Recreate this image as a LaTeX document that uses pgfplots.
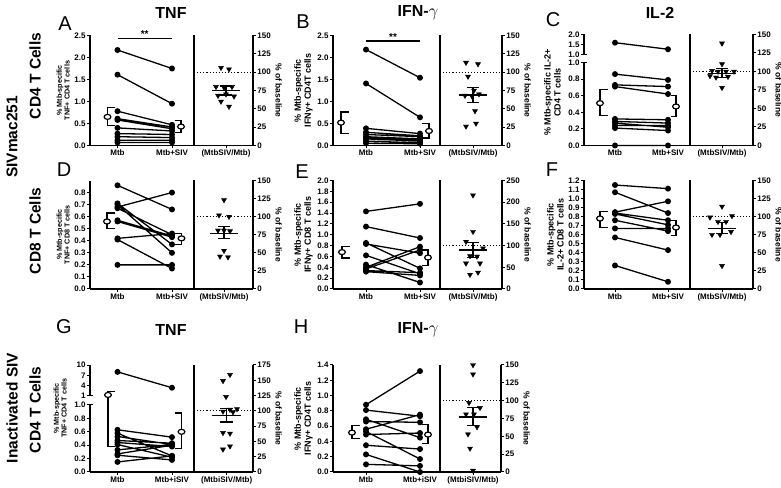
\documentclass[border=0pt]{standalone}
\usepackage{pgfplots}
\pgfplotsset{compat=1.18}
\usepackage{fontspec}
\setmainfont{Liberation Sans}
\newcommand\tickf{\fontsize{8}{8.5}\selectfont\bfseries}
\newcommand\smallylab{\fontsize{7.2}{7.8}\selectfont\bfseries}
\newcommand\bigylab{\fontsize{9}{10}\selectfont\bfseries}
\newcommand\basef{\fontsize{8.5}{9}\selectfont\bfseries}
\newcommand\starf{\fontsize{10}{10}\selectfont\bfseries}
\newcommand\titf{\fontsize{16}{18}\selectfont\bfseries}
\newcommand\letf{\fontsize{20}{22}\selectfont}
\newcommand\rowf{\fontsize{15.5}{17}\selectfont\bfseries}
\pgfplotsset{
  base/.style={scale only axis, anchor=south west, clip=false, unbounded coords=jump,
    axis line style={line width=1.5pt},
    every tick/.style={line width=1pt, black},
    major tick length=3pt, tick align=outside,
    tick label style={font=\tickf, inner sep=1.2pt},
    /pgf/number format/assume math mode=true},
  onedec/.style={yticklabel style={/pgf/number format/.cd, fixed, fixed zerofill, precision=1}},
  intdec/.style={yticklabel style={/pgf/number format/.cd, fixed, precision=0}},
  lpart/.style={base, onedec, axis x line*=bottom, axis y line*=left},
  upart/.style={base, axis x line=none, axis y line*=left, xtick=\empty},
  rpart/.style={base, intdec, axis x line*=bottom, axis y line*=right, ymin=0,
    ylabel={\% of baseline}, ylabel style={font=\basef, rotate=180},
    extra description/.code={\draw[line width=1.6pt] (rel axis cs:0,0) -- (rel axis cs:0,1);}},
  pts/.style={line width=1.3pt, black, mark=*, mark size=2.3pt, mark options={solid}},
  meanm/.style={only marks, mark=*, mark size=2.5pt, mark options={fill=white, draw=black, line width=1.2pt, xscale=1.35}},
  brk/.style={line width=1.2pt, black, mark=none},
  tri/.style={only marks, black, mark=triangle*, mark size=2.9pt, mark options={rotate=180}},
  msem/.style={line width=1.4pt, black, mark=none},
  dotl/.style={dotted, line width=1.1pt, black, mark=none},
  brkmark/.style={extra y ticks={1}, extra y tick labels={}, extra y tick style={tick align=inside}},
}
\begin{document}
\begin{tikzpicture}
\path[use as bounding box] (0pt,0pt) rectangle (781pt,487pt);

% ---------------- Panel A ----------------
\begin{axis}[lpart, at={(90pt,341.5pt)}, width=104pt, height=110pt,
  xmin=90, xmax=194, ymin=0, ymax=2.5, ytick={0,0.5,1,1.5,2,2.5},
  xtick={117.5,172}, xticklabels={Mtb,Mtb+SIV},
  ylabel={\% Mtb-specific\\TNF+ CD4 T cells}, ylabel style={align=center, font=\smallylab}]
\addplot[pts] coordinates {(117.5,2.17)(172,1.75)(0,nan)(117.5,1.61)(172,0.95)(0,nan)(117.5,0.78)(172,0.47)(0,nan)(117.5,0.61)(172,0.42)(0,nan)(117.5,0.58)(172,0.38)(0,nan)(117.5,0.40)(172,0.33)(0,nan)(117.5,0.27)(172,0.25)(0,nan)(117.5,0.20)(172,0.18)(0,nan)(117.5,0.12)(172,0.12)(0,nan)(117.5,0.07)(172,0.07)};
\addplot[brk] coordinates {(115,0.86)(107.5,0.86)(107.5,0.45)(115,0.45)(0,nan)(174.5,0.56)(181,0.56)(181,0.30)(174.5,0.30)};
\addplot[meanm] coordinates {(107.5,0.65)(181,0.43)};
\addplot[line width=1.7pt, black, mark=none] coordinates {(117.5,2.43)(172,2.43)};
\node[font=\starf, above, inner sep=1pt] at (axis cs:144.75,2.43) {**};
\end{axis}
\begin{axis}[rpart, at={(194pt,341.5pt)}, width=59pt, height=110pt,
  xmin=194, xmax=253, ymax=150, ytick={0,25,...,150}, xtick={226}, xticklabels={(MtbSIV/Mtb)}]
\addplot[dotl] coordinates {(194,100)(253,100)};
\addplot[msem] coordinates {(212,75)(240,75)(0,nan)(226,69)(226,81)(0,nan)(220,69)(232,69)(0,nan)(220,81)(232,81)};
\addplot[tri] coordinates {(221,106)(229,104)(216,80)(224,79)(232,80)(218,68)(226,70)(234,67)(221,60)(229,53)};
\end{axis}

% ---------------- Panel B ----------------
\begin{axis}[lpart, at={(333pt,341.5pt)}, width=107pt, height=110pt,
  xmin=333, xmax=440, ymin=0, ymax=2.5, ytick={0,0.5,1,1.5,2,2.5},
  xtick={366,420}, xticklabels={Mtb,Mtb+SIV},
  ylabel={\% Mtb-specific\\IFNγ+ CD4T cells}, ylabel style={align=center, font=\bigylab}]
\addplot[pts] coordinates {(366,2.18)(420,1.54)(0,nan)(366,1.41)(420,0.64)(0,nan)(366,0.39)(420,0.27)(0,nan)(366,0.30)(420,0.22)(0,nan)(366,0.25)(420,0.20)(0,nan)(366,0.20)(420,0.15)(0,nan)(366,0.18)(420,0.12)(0,nan)(366,0.15)(420,0.10)(0,nan)(366,0.10)(420,0.06)(0,nan)(366,0.05)(420,0.04)};
\addplot[brk] coordinates {(349,0.76)(341,0.76)(341,0.28)(349,0.28)(0,nan)(421.5,0.50)(429,0.50)(429,0.17)(421.5,0.17)};
\addplot[meanm] coordinates {(341,0.52)(429,0.33)};
\addplot[line width=1.7pt, black, mark=none] coordinates {(366,2.37)(420,2.37)};
\node[font=\starf, above, inner sep=1pt] at (axis cs:393,2.37) {**};
\end{axis}
\begin{axis}[rpart, at={(440pt,341.5pt)}, width=62pt, height=110pt,
  xmin=440, xmax=502, ymax=150, ytick={0,25,...,150}, xtick={473}, xticklabels={(MtbSIV/Mtb)}]
\addplot[dotl] coordinates {(440,100)(502,100)};
\addplot[msem] coordinates {(459,69)(487,69)(0,nan)(473,59)(473,79)(0,nan)(467,59)(479,59)(0,nan)(467,79)(479,79)};
\addplot[tri] coordinates {(466,113)(478,111)(468,94)(474,75)(479,70)(465,68)(472,67)(475,47)(466,26)(476,30)};
\end{axis}

% ---------------- Panel C ----------------
\begin{axis}[lpart, brkmark, at={(584pt,341.5pt)}, width=106pt, height=83pt,
  xmin=584, xmax=690, ymin=0, ymax=1, ytick={0,0.2,0.4,0.6,0.8,1},
  xtick={615,668}, xticklabels={Mtb,Mtb+SIV},
  ylabel={\% Mtb-specific IL-2+\\CD4 T cells}, ylabel style={align=center, font=\bigylab, at={(ticklabel cs:0.64)}}]
\addplot[pts] coordinates {(615,0.86)(668,0.79)(0,nan)(615,0.73)(668,0.71)(0,nan)(615,0.71)(668,0.62)(0,nan)(615,0.32)(668,0.31)(0,nan)(615,0.29)(668,0.27)(0,nan)(615,0.27)(668,0.22)(0,nan)(615,0.24)(668,0.24)(0,nan)(615,0.21)(668,0.18)(0,nan)(615,0)(668,0)};
\addplot[brk] coordinates {(608,0.67)(600,0.67)(600,0.36)(608,0.36)(0,nan)(670.5,0.60)(676,0.60)(676,0.35)(670.5,0.35)};
\addplot[meanm] coordinates {(600,0.51)(676,0.47)};
\end{axis}
\begin{axis}[upart, onedec, brkmark, at={(584pt,432pt)}, width=106pt, height=20.5pt,
  xmin=584, xmax=690, ymin=1, ymax=2, ytick={1,1.5,2}]
\addplot[pts] coordinates {(615,1.6)(668,1.28)};
\end{axis}
\begin{axis}[rpart, at={(690pt,341.5pt)}, width=63pt, height=111pt,
  xmin=690, xmax=753, ymax=150, ytick={0,25,...,150}, xtick={722}, xticklabels={(MtbSIV/Mtb)}]
\addplot[dotl] coordinates {(690,100)(753,100)};
\addplot[msem] coordinates {(708,97)(736,97)(0,nan)(722,92)(722,104)(0,nan)(716,92)(728,92)(0,nan)(716,104)(728,104)};
\addplot[tri] coordinates {(722,138)(722,110)(712,101)(718,100)(726,100)(734,100)(710,94)(716,92)(728,93)(722,78)};
\end{axis}

% ---------------- Panel D ----------------
\begin{axis}[lpart, at={(90pt,198pt)}, width=104pt, height=108.5pt,
  xmin=90, xmax=194, ymin=0, ymax=0.9, ytick={0,0.1,0.2,0.3,0.4,0.5,0.6,0.7,0.8},
  xtick={117.5,172}, xticklabels={Mtb,Mtb+SIV},
  ylabel={\% Mtb-specific\\TNF+ CD8 T cells}, ylabel style={align=center, font=\smallylab}]
\addplot[pts] coordinates {(117.5,0.86)(172,0.66)(0,nan)(117.5,0.68)(172,0.80)(0,nan)(117.5,0.71)(172,0.37)(0,nan)(117.5,0.70)(172,0.30)(0,nan)(117.5,0.67)(172,0.45)(0,nan)(117.5,0.57)(172,0.44)(0,nan)(117.5,0.56)(172,0.43)(0,nan)(117.5,0.42)(172,0.46)(0,nan)(117.5,0.41)(172,0.17)(0,nan)(117.5,0.20)(172,0.20)};
\addplot[brk] coordinates {(115,0.63)(107,0.63)(107,0.50)(115,0.50)(0,nan)(174.5,0.46)(181.5,0.46)(181.5,0.37)(174.5,0.37)};
\addplot[meanm] coordinates {(107,0.56)(181.5,0.42)};
\end{axis}
\begin{axis}[rpart, at={(194pt,198pt)}, width=59pt, height=108.5pt,
  xmin=194, xmax=253, ymax=150, ytick={0,25,...,150}, xtick={224}, xticklabels={(MtbSIV/Mtb)}]
\addplot[dotl] coordinates {(194,100)(253,100)};
\addplot[msem] coordinates {(210,77)(238,77)(0,nan)(224,70)(224,86)(0,nan)(218,70)(230,70)(0,nan)(218,86)(230,86)};
\addplot[tri] coordinates {(224,123)(219,102)(229,100)(218,81)(224,81)(230,80)(224,53)(220,45)(228,44)};
\end{axis}

% ---------------- Panel E ----------------
\begin{axis}[lpart, at={(333pt,198pt)}, width=107pt, height=108.5pt,
  xmin=333, xmax=440, ymin=0, ymax=2, ytick={0,0.2,0.4,0.6,0.8,1,1.2,1.4,1.6,1.8,2},
  xtick={366,420}, xticklabels={Mtb,Mtb+SIV},
  ylabel={\% Mtb-specific\\IFNγ+ CD8 T cells}, ylabel style={align=center, font=\bigylab}]
\addplot[pts] coordinates {(366,1.43)(420,1.57)(0,nan)(366,1.15)(420,0.94)(0,nan)(366,0.85)(420,0.38)(0,nan)(366,0.83)(420,0.66)(0,nan)(366,0.62)(420,0.28)(0,nan)(366,0.45)(420,0.12)(0,nan)(366,0.40)(420,0.78)(0,nan)(366,0.37)(420,0.72)(0,nan)(366,0.34)(420,0.30)(0,nan)(366,0.32)(420,0.25)};
\addplot[brk] coordinates {(350,0.78)(342,0.78)(342,0.57)(350,0.57)(0,nan)(421.5,0.72)(428,0.72)(428,0.44)(421.5,0.44)};
\addplot[meanm] coordinates {(342,0.68)(428,0.58)};
\end{axis}
\begin{axis}[rpart, at={(440pt,198pt)}, width=62pt, height=108.5pt,
  xmin=440, xmax=502, ymax=250, ytick={0,50,...,250}, xtick={473}, xticklabels={(MtbSIV/Mtb)}]
\addplot[dotl] coordinates {(440,100)(502,100)};
\addplot[msem] coordinates {(459,90)(487,90)(0,nan)(473,73)(473,107)(0,nan)(467,73)(479,73)(0,nan)(467,107)(479,107)};
\addplot[tri] coordinates {(473,216)(473,132)(466,109)(483,94)(470,76)(477,75)(466,59)(480,59)(470,33)(478,38)};
\end{axis}

% ---------------- Panel F ----------------
\begin{axis}[lpart, at={(584pt,198pt)}, width=106pt, height=108.5pt,
  xmin=584, xmax=690, ymin=0, ymax=1.2, ytick={0,0.1,0.2,0.3,0.4,0.5,0.6,0.7,0.8,0.9,1,1.1,1.2},
  xtick={615,668}, xticklabels={Mtb,Mtb+SIV},
  ylabel={\% Mtb-specific\\IL-2+ CD8 T cells}, ylabel style={align=center, font=\bigylab}]
\addplot[pts] coordinates {(615,1.15)(668,1.11)(0,nan)(615,1.07)(668,0.84)(0,nan)(615,0.85)(668,0.97)(0,nan)(615,0.84)(668,0.76)(0,nan)(615,0.83)(668,0.71)(0,nan)(615,0.76)(668,0.64)(0,nan)(615,0.67)(668,0.67)(0,nan)(615,0.57)(668,0.43)(0,nan)(615,0.26)(668,0.08)};
\addplot[brk] coordinates {(608,0.86)(600,0.86)(600,0.68)(608,0.68)(0,nan)(670.5,0.76)(676,0.76)(676,0.59)(670.5,0.59)};
\addplot[meanm] coordinates {(600,0.78)(676,0.68)};
\end{axis}
\begin{axis}[rpart, at={(690pt,198pt)}, width=63pt, height=108.5pt,
  xmin=690, xmax=753, ymax=150, ytick={0,25,...,150}, xtick={722}, xticklabels={(MtbSIV/Mtb)}]
\addplot[dotl] coordinates {(690,100)(753,100)};
\addplot[msem] coordinates {(708,84)(736,84)(0,nan)(722,77)(722,92)(0,nan)(716,77)(728,77)(0,nan)(716,92)(728,92)};
\addplot[tri] coordinates {(722,114)(710,99)(732,101)(718,93)(726,93)(731,79)(712,75)(720,75)(722,32)};
\end{axis}

% ---------------- Panel G ----------------
\begin{axis}[lpart, brkmark, at={(90pt,15pt)}, width=104pt, height=67pt,
  xmin=90, xmax=194, ymin=0, ymax=1, ytick={0,0.2,0.4,0.6,0.8,1},
  xtick={117.5,172}, xticklabels={Mtb,Mtb+iSIV},
  ylabel={\% Mtb-specific\\TNF+ CD4 T cells}, ylabel style={align=center, font=\smallylab, at={(ticklabel cs:0.95)}}]
\addplot[pts] coordinates {(117.5,0.63)(172,0.52)(0,nan)(117.5,0.58)(172,0.24)(0,nan)(117.5,0.53)(172,0.41)(0,nan)(117.5,0.47)(172,0.43)(0,nan)(117.5,0.44)(172,0.38)(0,nan)(117.5,0.41)(172,0.22)(0,nan)(117.5,0.33)(172,0.41)(0,nan)(117.5,0.27)(172,0.40)(0,nan)(117.5,0.25)(172,0.18)(0,nan)(117.5,0.15)(172,0.24)};
\addplot[brk] coordinates {(108,1.134)(108,0.38)(115,0.38)(0,nan)(174.5,0.88)(181.5,0.88)(181.5,0.35)(174.5,0.35)};
\addplot[meanm] coordinates {(181.5,0.60)};
\end{axis}
\begin{axis}[upart, intdec, brkmark, at={(90pt,91pt)}, width=104pt, height=31pt,
  xmin=90, xmax=194, ymin=1, ymax=10, ytick={1,4,7,10}]
\addplot[pts] coordinates {(117.5,8.0)(172,3.4)};
\addplot[brk] coordinates {(115,2.26)(108,2.26)(108,1)};
\addplot[meanm] coordinates {(108,1.3)};
\end{axis}
\begin{axis}[rpart, at={(194pt,15pt)}, width=59pt, height=107pt,
  xmin=194, xmax=253, ymax=175, ytick={0,25,...,175}, xtick={226.7}, xticklabels={(MtbiSIV/Mtb)}]
\addplot[dotl] coordinates {(194,100)(253,100)};
\addplot[msem] coordinates {(212,92)(241,92)(0,nan)(226.7,82)(226.7,104)(0,nan)(220,82)(233,82)(0,nan)(220,104)(233,104)};
\addplot[tri] coordinates {(230,159)(223,149)(226,123)(223,99)(230,102)(237,103)(233,98)(223,64)(230,63)(223,37)(230,42)};
\end{axis}

% ---------------- Panel H ----------------
\begin{axis}[lpart, at={(333pt,15pt)}, width=107pt, height=107pt,
  xmin=333, xmax=440, ymin=0, ymax=1.4, ytick={0,0.2,0.4,0.6,0.8,1,1.2,1.4},
  xtick={366,420}, xticklabels={Mtb,Mtb+iSIV},
  ylabel={\% Mtb-specific\\IFNγ+ CD4T cells}, ylabel style={align=center, font=\bigylab}]
\addplot[pts] coordinates {(366,0.88)(420,1.32)(0,nan)(366,0.81)(420,0.73)(0,nan)(366,0.69)(420,0.45)(0,nan)(366,0.66)(420,0.65)(0,nan)(366,0.56)(420,0.75)(0,nan)(366,0.53)(420,0.17)(0,nan)(366,0.49)(420,0.51)(0,nan)(366,0.35)(420,0.30)(0,nan)(366,0.23)(420,0.0)(0,nan)(366,0.10)(420,0.08)};
\addplot[brk] coordinates {(360,0.61)(352,0.61)(352,0.44)(360,0.44)(0,nan)(421.5,0.62)(428,0.62)(428,0.37)(421.5,0.37)};
\addplot[meanm] coordinates {(352,0.515)(428,0.49)};
\end{axis}
\begin{axis}[rpart, at={(440pt,15pt)}, width=61pt, height=107pt,
  xmin=440, xmax=501, ymax=150, ytick={0,25,...,150}, xtick={473}, xticklabels={(MtbiSIV/Mtb)}]
\addplot[dotl] coordinates {(440,100)(501,100)};
\addplot[msem] coordinates {(459,77)(487,77)(0,nan)(473,65)(473,90)(0,nan)(467,65)(479,65)(0,nan)(467,90)(479,90)};
\addplot[tri] coordinates {(473,150)(473,137)(469,97)(480,90)(466,81)(474,81)(468,53)(477,63)(470,33)(473,2)};
\end{axis}

% ---------------- Titles and labels ----------------
\node[font=\titf] at (171pt,474pt) {TNF};
\node[font=\titf] at (418pt,474pt) {IFN-$\gamma$};
\node[font=\titf] at (660pt,474pt) {IL-2};
\node[font=\titf] at (171pt,157pt) {TNF};
\node[font=\titf] at (418pt,157pt) {IFN-$\gamma$};
\node[font=\letf] at (65pt,463pt) {A};
\node[font=\letf] at (303pt,465pt) {B};
\node[font=\letf] at (553pt,467pt) {C};
\node[font=\letf] at (64pt,317pt) {D};
\node[font=\letf] at (302pt,315pt) {E};
\node[font=\letf] at (552pt,317pt) {F};
\node[font=\letf] at (64pt,160pt) {G};
\node[font=\letf] at (301pt,160pt) {H};
\node[rotate=90, font=\rowf] at (12pt,350pt) {SIVmac251};
\node[rotate=90, font=\rowf] at (35pt,411pt) {CD4 T Cells};
\node[rotate=90, font=\rowf] at (35pt,256pt) {CD8 T Cells};
\node[rotate=90, font=\rowf] at (12pt,79pt) {Inactivated SIV};
\node[rotate=90, font=\rowf] at (35pt,77pt) {CD4 T Cells};
\end{tikzpicture}
\end{document}
